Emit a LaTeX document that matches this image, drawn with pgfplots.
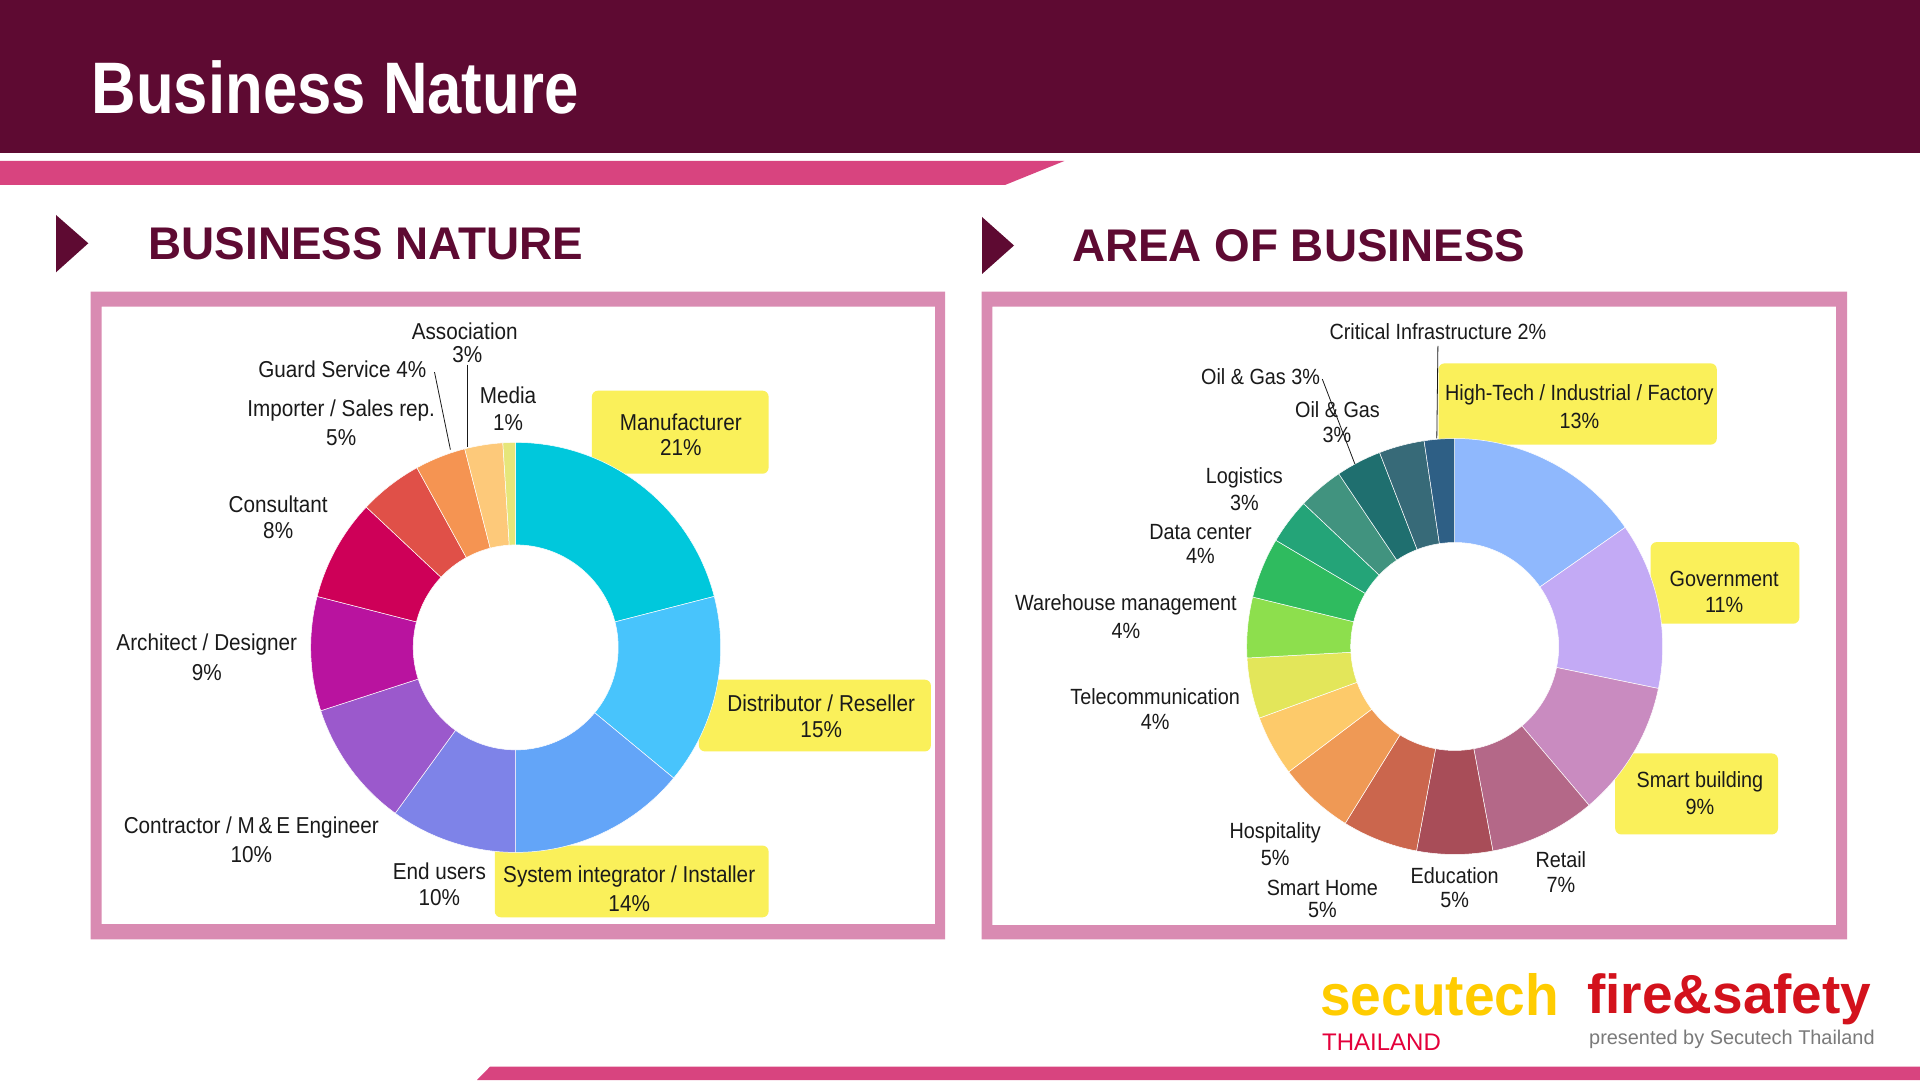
\documentclass[border=0pt]{standalone}
\usepackage{fontspec}
\setmainfont{Liberation Sans}
\newfontfamily\labfont[FakeStretch=0.9]{Liberation Sans}
\newfontfamily\ttlfont[FakeStretch=0.845]{Liberation Sans}
\newfontfamily\logofont[FakeStretch=0.95]{Liberation Sans}
\usepackage{etoolbox}
\usepackage{pgfplots}
\usepackage{pgfplotstable}
\pgfplotsset{compat=1.18}
\pgfplotsset{donut/.style={anchor=center, scale only axis, hide axis, clip=false,
    xmin=-1, xmax=1, ymin=-1, ymax=1}}

\definecolor{maroon}{HTML}{5E0A32}
\definecolor{stripe}{HTML}{D8447F}
\definecolor{frame}{HTML}{D98BB2}
\definecolor{boxy}{HTML}{FAF05A}
\definecolor{ink}{HTML}{1A1A1A}
% business nature slices
\definecolor{nat1}{HTML}{00C8DC}
\definecolor{nat2}{HTML}{48C4FC}
\definecolor{nat3}{HTML}{63A5F8}
\definecolor{nat4}{HTML}{7E83E8}
\definecolor{nat5}{HTML}{9B59CC}
\definecolor{nat6}{HTML}{B9139F}
\definecolor{nat7}{HTML}{CE0058}
\definecolor{nat8}{HTML}{E05048}
\definecolor{nat9}{HTML}{F59452}
\definecolor{nat10}{HTML}{FDC97A}
\definecolor{nat11}{HTML}{E6E67A}
% area of business slices
\definecolor{area1}{HTML}{8FB8FD}
\definecolor{area2}{HTML}{C3AAF5}
\definecolor{area3}{HTML}{C98BC0}
\definecolor{area4}{HTML}{B46888}
\definecolor{area5}{HTML}{A84D58}
\definecolor{area6}{HTML}{CB664D}
\definecolor{area7}{HTML}{EF9955}
\definecolor{area8}{HTML}{FDCA6A}
\definecolor{area9}{HTML}{E3E65A}
\definecolor{area10}{HTML}{8DDF4D}
\definecolor{area11}{HTML}{2FBB5F}
\definecolor{area12}{HTML}{24A478}
\definecolor{area13}{HTML}{41937F}
\definecolor{area14}{HTML}{1F6F6F}
\definecolor{area15}{HTML}{376A78}
\definecolor{area16}{HTML}{2E5F85}

\pgfplotstableread{
share colour
21 nat1
15 nat2
14 nat3
10 nat4
10 nat5
9  nat6
8  nat7
5  nat8
4  nat9
3  nat10
1  nat11
}\naturedata

\pgfplotstableread{
share colour
13 area1
11 area2
9  area3
7  area4
5  area5
5  area6
5  area7
4  area8
4  area9
4  area10
4  area11
3  area12
3  area13
3  area14
3  area15
2  area16
}\areadata

% builds the wedge paths of a donut (inner radius half the outer) into #4
% #1 table, #2 last row index, #3 outer radius in pt
\newcommand\builddonut[4]{%
  \gdef#4{}%
  \gdef\dtot{0}%
  \pgfplotsinvokeforeach{0,...,#2}{%
    \pgfplotstablegetelem{##1}{share}\of{#1}%
    \pgfmathsetmacro\tmp{\dtot+\pgfplotsretval}%
    \xdef\dtot{\tmp}}%
  \pgfmathsetmacro\dunit{360/\dtot}%
  \gdef\dsum{0}%
  \pgfplotsinvokeforeach{0,...,#2}{%
    \pgfplotstablegetelem{##1}{share}\of{#1}\let\dsh\pgfplotsretval
    \pgfplotstablegetelem{##1}{colour}\of{#1}\let\dcol\pgfplotsretval
    \pgfmathsetmacro\aA{90-\dsum*\dunit}%
    \pgfmathsetmacro\tmp{\dsum+\dsh}\xdef\dsum{\tmp}%
    \pgfmathsetmacro\aB{90-\dsum*\dunit}%
    \pgfmathsetmacro\xA{cos(\aA)}\pgfmathsetmacro\yA{sin(\aA)}%
    \pgfmathsetmacro\xB{0.5*cos(\aB)}\pgfmathsetmacro\yB{0.5*sin(\aB)}%
    \pgfmathsetmacro\rin{0.5*#3}%
    \edef\slice{\noexpand\fill[\dcol,draw=white,line width=0.5pt]
      (axis cs:\xA,\yA) arc[start angle=\aA,end angle=\aB,radius=#3pt]
      -- (axis cs:\xB,\yB) arc[start angle=\aB,end angle=\aA,radius=\rin pt] -- cycle;}%
    \expandafter\gappto\expandafter#4\expandafter{\slice}}}

\builddonut{\naturedata}{10}{205}{\naturepaths}
\builddonut{\areadata}{15}{208}{\areapaths}

\begin{document}
\begin{tikzpicture}[
  lab/.style={font=\labfont\fontsize{23}{26}\selectfont, text=ink, inner sep=0pt,
    text height=16.5pt, text depth=0pt, anchor=center},
  labr/.style={font=\labfont\fontsize{22}{25}\selectfont, text=ink, inner sep=0pt,
    text height=15.8pt, text depth=0pt, anchor=center}]
\begin{scope}[x=1pt,y=1pt]
\useasboundingbox (0,0) rectangle (1920,1080);
\fill[white] (0,0) rectangle (1920,1080);

% banner and stripes
\fill[maroon] (0,927.3) rectangle (1920,1080);
\fill[stripe] (0,919) -- (1064.3,919) -- (1005,895) -- (0,895) -- cycle;
\fill[stripe] (490,13.3) -- (1920,13.3) -- (1920,0) -- (477,0) -- cycle;
\node[anchor=base west, inner sep=0pt, text=white,
  font=\ttlfont\bfseries\fontsize{73}{80}\selectfont] at (91.5,966) {Business Nature};

% section headings
\fill[maroon] (56,865) -- (88.3,836.7) -- (56,807.7) -- cycle;
\fill[maroon] (982,863) -- (1014,834.5) -- (982,806) -- cycle;
\node[anchor=base west, inner sep=0pt, text=maroon,
  font=\bfseries\fontsize{45.8}{50}\selectfont] at (148.5,820.7) {BUSINESS NATURE};
\node[anchor=base west, inner sep=0pt, text=maroon,
  font=\bfseries\fontsize{45.8}{50}\selectfont] at (1072,818.5) {AREA OF BUSINESS};

% frames
\fill[frame, even odd rule] (90.7,788.3) rectangle (945,140.7)
  (101.7,773.3) rectangle (935,156);
\fill[frame, even odd rule] (981.7,788.3) rectangle (1847,140.7)
  (992.3,773.3) rectangle (1836,155);

% highlight boxes (behind the donuts)
\fill[boxy, rounded corners=6pt] (591.9,606.3) rectangle (768.6,689.3);
\fill[boxy, rounded corners=6pt] (698.9,328.6) rectangle (930.9,400.3);
\fill[boxy, rounded corners=6pt] (494.8,162.7) rectangle (768.6,234.4);
\fill[boxy, rounded corners=6pt] (1438.5,635.4) rectangle (1716.8,716.6);
\fill[boxy, rounded corners=6pt] (1650.6,456.3) rectangle (1799.3,537.9);
\fill[boxy, rounded corners=6pt] (1615.2,245.6) rectangle (1778,326.5);
\end{scope}

% donuts
\begin{axis}[donut, at={(515.7pt,432.6pt)}, width=410pt, height=410pt]
\naturepaths
\end{axis}
\begin{axis}[donut, at={(1454.7pt,433.5pt)}, width=416pt, height=416pt]
\areapaths
\end{axis}

\begin{scope}[x=1pt,y=1pt]
% business nature labels
\node[lab] at (464.7,748.5) {Association};
\node[lab] at (467.4,725.7) {3\%};
\node[lab] at (342.3,711.2) {Guard Service 4\%};
\node[lab] at (341.2,671.8) {Importer / Sales rep.};
\node[lab] at (341.2,642.8) {5\%};
\node[lab] at (508,685.1) {Media};
\node[lab] at (508,658.2) {1\%};
\node[lab] at (680.8,658.2) {Manufacturer};
\node[lab] at (680.8,632.5) {21\%};
\node[lab] at (278.2,575.7) {Consultant};
\node[lab] at (278.2,549.5) {8\%};
\node[lab] at (206.8,437.6) {Architect / Designer};
\node[lab] at (206.8,407.7) {9\%};
\node[lab] at (821.2,376.6) {Distributor / Reseller};
\node[lab] at (821.2,350.5) {15\%};
\node[lab] at (251.3,255.2) {Contractor / M\,\&\,E Engineer};
\node[lab] at (251.3,226.2) {10\%};
\node[lab] at (439.4,208.7) {End users};
\node[lab] at (439.4,182.6) {10\%};
\node[lab] at (629.2,205.4) {System integrator / Installer};
\node[lab] at (629.2,177.2) {14\%};
\draw[ink, line width=0.8pt] (434.5,707.9) -- (450.4,630.4);
\draw[ink, line width=0.8pt] (467.4,715.4) -- (467.4,633.3);

% area of business labels
\node[labr] at (1437.9,748.5) {Critical Infrastructure 2\%};
\node[labr] at (1579.3,687.6) {High-Tech / Industrial / Factory};
\node[labr] at (1579.3,659.4) {13\%};
\node[labr] at (1260.6,703.8) {Oil \& Gas 3\%};
\node[labr] at (1337.5,670.6) {Oil \& Gas};
\node[labr] at (1336.9,645.7) {3\%};
\node[labr] at (1244.3,604.7) {Logistics};
\node[labr] at (1244.3,577.3) {3\%};
\node[labr] at (1200.5,548.7) {Data center};
\node[labr] at (1200.5,524.7) {4\%};
\node[labr] at (1125.9,477) {Warehouse management};
\node[labr] at (1125.9,449.2) {4\%};
\node[labr] at (1724.1,501) {Government};
\node[labr] at (1724.1,475.7) {11\%};
\node[labr] at (1155.1,382.9) {Telecommunication};
\node[labr] at (1155.1,358) {4\%};
\node[labr] at (1700,300.8) {Smart building};
\node[labr] at (1700,273.8) {9\%};
\node[labr] at (1275.2,249.8) {Hospitality};
\node[labr] at (1275.2,222.8) {5\%};
\node[labr] at (1322.3,192.2) {Smart Home};
\node[labr] at (1322.3,170.2) {5\%};
\node[labr] at (1454.7,204.6) {Education};
\node[labr] at (1454.7,180.5) {5\%};
\node[labr] at (1560.8,220.8) {Retail};
\node[labr] at (1560.8,195.9) {7\%};
\draw[ink, line width=0.8pt] (1437.9,734) -- (1436.8,641.6);
\draw[ink, line width=0.8pt] (1322.3,700.9) -- (1354.9,615.9);

% logos
\node[anchor=base west, inner sep=0pt, text={rgb,255:red,255;green,204;blue,0},
  font=\logofont\bfseries\fontsize{58}{60}\selectfont] at (1320,65) {secutech};
\node[anchor=base west, inner sep=0pt, text={rgb,255:red,228;green,0;blue,59},
  font=\fontsize{24}{26}\selectfont] at (1322,30) {THAILAND};
\node[anchor=base west, inner sep=0pt, text={rgb,255:red,211;green,18;blue,28},
  font=\bfseries\fontsize{55}{57}\selectfont] at (1587,67) {fire\&safety};
\node[anchor=base west, inner sep=0pt, text={rgb,255:red,122;green,122;blue,122},
  font=\fontsize{19.9}{22}\selectfont] at (1589,36) {presented by Secutech Thailand};
\end{scope}
\end{tikzpicture}
\end{document}
